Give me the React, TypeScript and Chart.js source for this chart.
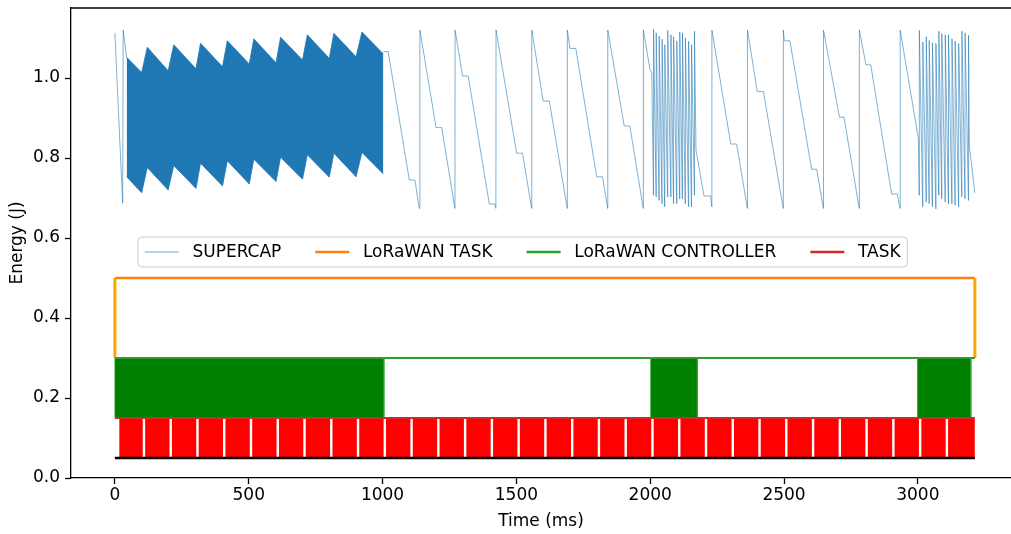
import React, { useEffect, useRef } from "react";
import { Chart, registerables } from "chart.js";

Chart.register(...registerables);

// ---------- axes ----------
const X_TICKS = [0, 500, 1000, 1500, 2000, 2500, 3000];
const X_TICK_LABELS = ["0", "500", "1000", "1500", "2000", "2500", "3000"];
const Y_TICKS = [0, 0.2, 0.4, 0.6, 0.8, 1.0];
const Y_TICK_LABELS = ["0.0", "0.2", "0.4", "0.6", "0.8", "1.0"];
const X_MIN = -164;
const X_MAX = 3348;
const Y_MIN = 0;
const Y_MAX = 1.175;
const END_T = 3213;

// ---------- SUPERCAP (energy, J) ----------
const capPreT = [0, 29, 31, 44];
const capPreE = [1.112, 0.687, 1.12, 1.05];

// dense oscillation 44..1003 ms, drawn as its envelope
const bandT = [44, 100, 121, 199, 220, 303, 320, 402, 420, 502, 519, 602, 619, 701, 719, 801, 818, 901, 923, 1003];
const bandTop = [1.052, 1.014, 1.077, 1.018, 1.083, 1.023, 1.087, 1.028, 1.093, 1.035, 1.098, 1.038, 1.102, 1.045, 1.108, 1.049, 1.112, 1.053, 1.115, 1.06];
const bandBottom = [0.753, 0.713, 0.776, 0.72, 0.781, 0.724, 0.787, 0.73, 0.793, 0.735, 0.797, 0.741, 0.802, 0.747, 0.808, 0.752, 0.812, 0.753, 0.814, 0.76];

const capMidT = [1003, 1021, 1100, 1121, 1137, 1139.5, 1200, 1221, 1270.5, 1271, 1299, 1320, 1399, 1420, 1423.5, 1424, 1501, 1523, 1557, 1557.5, 1600, 1623, 1690, 1690.5, 1700, 1722, 1800, 1822, 1841, 1841.5, 1903, 1924, 1974, 1974.5, 2000, 2006];
const capMidE = [1.066, 1.066, 0.745, 0.745, 0.674, 1.12, 0.876, 0.876, 0.674, 1.12, 1.005, 1.005, 0.685, 0.685, 0.674, 1.12, 0.812, 0.812, 0.674, 1.12, 0.9425, 0.9425, 0.674, 1.12, 1.074, 1.074, 0.753, 0.753, 0.674, 1.12, 0.88, 0.88, 0.674, 1.12, 1.018, 1.015];

const spikes2T = [2012, 2022, 2033, 2044, 2054, 2065, 2077, 2087, 2099, 2110, 2120, 2131, 2143, 2154, 2165];
const spikes2Top = [1.122, 1.113, 1.105, 1.097, 1.083, 1.119, 1.108, 1.103, 1.093, 1.115, 1.113, 1.1, 1.092, 1.083, 1.117];
const spikes2Bottom = [0.707, 0.703, 0.694, 0.686, 0.678, 0.703, 0.703, 0.686, 0.686, 0.698, 0.698, 0.686, 0.678, 0.678, 0.707];

const capMid2T = [2171, 2201, 2226, 2230, 2230.5, 2301, 2323, 2363, 2363.5, 2400, 2423, 2497, 2497.5, 2501, 2522, 2603, 2622, 2647, 2647.5, 2707, 2724, 2781, 2781.5, 2806, 2824, 2902, 2923, 2933.5, 2934, 3002];
const capMid2E = [0.82, 0.705, 0.705, 0.678, 1.12, 0.835, 0.835, 0.674, 1.12, 0.966, 0.966, 0.674, 1.12, 1.093, 1.093, 0.772, 0.772, 0.674, 1.12, 0.902, 0.902, 0.674, 1.12, 1.033, 1.033, 0.71, 0.71, 0.674, 1.12, 0.848];

const spikes3T = [3005, 3018, 3031, 3042, 3054, 3067, 3078, 3089, 3102, 3114, 3127, 3139, 3152, 3164, 3176, 3189];
const spikes3Top = [1.119, 1.09, 1.103, 1.094, 1.088, 1.086, 1.117, 1.111, 1.108, 1.108, 1.098, 1.092, 1.086, 1.117, 1.113, 1.107];
const spikes3Bottom = [0.707, 0.678, 0.69, 0.686, 0.678, 0.673, 0.707, 0.698, 0.69, 0.686, 0.686, 0.682, 0.678, 0.703, 0.698, 0.694];

const capEndT = [3192, 3213];
const capEndE = [0.832, 0.713];

// ---------- activity levels ----------
const LORA_TASK_LEVELS = [0.3, 0.5];
const CONTROLLER_LEVELS = [0.15, 0.3];
const TASK_LEVELS = [0.05, 0.15];

const controllerStarts = [0, 2002, 2999];
const controllerEnds = [1005, 2176, 3198];

const taskStarts = [16, 113, 213, 313, 413, 513, 613, 713, 813, 913, 1013, 1113, 1213, 1313, 1413, 1513, 1613, 1713, 1813, 1913, 2013, 2113, 2213, 2313, 2413, 2513, 2613, 2713, 2813, 2913, 3013, 3113];
const taskEnds = [104, 204, 304, 404, 504, 604, 704, 804, 904, 1004, 1104, 1204, 1304, 1404, 1504, 1604, 1704, 1804, 1904, 2004, 2104, 2204, 2304, 2404, 2504, 2604, 2704, 2804, 2904, 3004, 3104, 3213];

const LEGEND_LABELS = ["SUPERCAP", "LoRaWAN TASK", "LoRaWAN CONTROLLER", "TASK"];
const LEGEND_COLORS = ["rgba(31,119,180,0.7)", "#ff7f0e", "#2ca02c", "#d62728"];
const LEGEND_WIDTHS = [0.9, 2.5, 2.5, 2.5];

const CAP_COLOR = "rgba(31,119,180,0.72)";

type P = { x: number; y: number | null };
const pts = (ts: number[], es: number[]): P[] => ts.map((t, i) => ({ x: t, y: es[i] }));
// sharp rise at each spike time, then decay toward the next spike's bottom
const spikes = (ts: number[], tops: number[], bots: number[]): P[] =>
  ts.flatMap((t, i) => [
    { x: t, y: bots[i] },
    { x: t + 0.5, y: tops[i] },
  ]);
const blocks = (starts: number[], ends: number[], lo: number, hi: number): P[] =>
  starts.flatMap((s, i) => [
    { x: s, y: lo },
    { x: s, y: hi },
    { x: ends[i], y: hi },
    { x: ends[i], y: lo },
  ]);

const FONT = "'DejaVu Sans', 'Liberation Sans', sans-serif";
const FS = 17;

const framePlugin = {
  id: "frameTop",
  afterDraw(chart: any) {
    const { ctx, chartArea } = chart;
    ctx.save();
    ctx.strokeStyle = "#000";
    ctx.lineWidth = 1.3;
    ctx.beginPath();
    ctx.moveTo(chartArea.left, chartArea.top);
    ctx.lineTo(chartArea.right, chartArea.top);
    ctx.stroke();
    ctx.restore();
  },
};

const legendPlugin = {
  id: "mplLegend",
  afterDraw(chart: any) {
    const ctx = chart.ctx;
    const f = FS;
    const left = 138;
    const top = 237;
    const h = 30;
    ctx.save();
    ctx.font = `${f}px ${FONT}`;
    let x = left + 0.4 * f;
    const layout: { hx: number; tx: number }[] = [];
    LEGEND_LABELS.forEach((lab, i) => {
      const hx = x;
      const tx = hx + 2 * f + 0.8 * f;
      layout.push({ hx, tx });
      x = tx + ctx.measureText(lab).width + (i < LEGEND_LABELS.length - 1 ? 2 * f : 0);
    });
    const right = x + 0.4 * f;
    const r = 4;
    ctx.beginPath();
    ctx.moveTo(left + r, top);
    ctx.lineTo(right - r, top);
    ctx.arcTo(right, top, right, top + r, r);
    ctx.lineTo(right, top + h - r);
    ctx.arcTo(right, top + h, right - r, top + h, r);
    ctx.lineTo(left + r, top + h);
    ctx.arcTo(left, top + h, left, top + h - r, r);
    ctx.lineTo(left, top + r);
    ctx.arcTo(left, top, left + r, top, r);
    ctx.closePath();
    ctx.fillStyle = "rgba(255,255,255,0.8)";
    ctx.fill();
    ctx.strokeStyle = "#cccccc";
    ctx.lineWidth = 1;
    ctx.stroke();
    const cy = top + h / 2;
    LEGEND_LABELS.forEach((lab, i) => {
      const { hx, tx } = layout[i];
      ctx.strokeStyle = LEGEND_COLORS[i];
      ctx.lineWidth = LEGEND_WIDTHS[i];
      ctx.beginPath();
      ctx.moveTo(hx, cy);
      ctx.lineTo(hx + 2 * f, cy);
      ctx.stroke();
      ctx.fillStyle = "#000";
      ctx.textBaseline = "middle";
      ctx.textAlign = "left";
      ctx.fillText(lab, tx, cy + 1);
    });
    ctx.restore();
  },
};

export default function App() {
  const ref = useRef<HTMLCanvasElement | null>(null);

  useEffect(() => {
    if (!ref.current) return;
    Chart.defaults.font.family = FONT;
    Chart.defaults.font.size = FS;
    Chart.defaults.color = "#000";

    const supercap: P[] = [
      ...pts(capPreT, capPreE),
      { x: 500, y: null },
      ...pts(capMidT, capMidE),
      ...spikes(spikes2T, spikes2Top, spikes2Bottom),
      ...pts(capMid2T, capMid2E),
      ...spikes(spikes3T, spikes3Top, spikes3Bottom),
      ...pts(capEndT, capEndE),
    ];

    const loraTask: P[] = [
      { x: 0, y: LORA_TASK_LEVELS[0] },
      { x: 0, y: LORA_TASK_LEVELS[1] },
      { x: END_T, y: LORA_TASK_LEVELS[1] },
      { x: END_T, y: LORA_TASK_LEVELS[0] },
    ];

    const base = { pointRadius: 0, tension: 0, fill: false, spanGaps: false };

    const zeroPad = (s: any) => {
      s.paddingTop = 0;
      s.paddingBottom = 0;
      s.paddingLeft = 0;
      s.paddingRight = 0;
    };

    const chart = new Chart(ref.current, {
      type: "line",
      data: {
        datasets: [
          {
            ...base,
            label: "black",
            data: [{ x: 0, y: TASK_LEVELS[0] }, { x: END_T, y: TASK_LEVELS[0] }],
            borderColor: "#000",
            borderWidth: 2.5,
            order: 0,
          },
          {
            ...base,
            label: "TASK",
            data: [{ x: 0, y: TASK_LEVELS[1] }, { x: END_T, y: TASK_LEVELS[1] }],
            borderColor: "#d62728",
            borderWidth: 2.2,
            order: 1,
          },
          {
            ...base,
            label: "LoRaWAN CONTROLLER",
            data: [{ x: 0, y: CONTROLLER_LEVELS[1] }, { x: END_T, y: CONTROLLER_LEVELS[1] }],
            borderColor: "#2ca02c",
            borderWidth: 2.2,
            order: 2,
          },
          {
            ...base,
            label: "LoRaWAN TASK",
            data: loraTask,
            borderColor: "#ff7f0e",
            borderWidth: 2.5,
            segment: {
              borderColor: (c: any) => (c.p0.parsed.x === c.p1.parsed.x ? "#ffa500" : "#ff7f0e"),
              borderWidth: (c: any) => (c.p0.parsed.x === c.p1.parsed.x ? 3 : 2.5),
            },
            order: 3,
          },
          {
            ...base,
            label: "SUPERCAP",
            data: supercap,
            borderColor: CAP_COLOR,
            borderWidth: 0.8,
            order: 4,
          },
          {
            ...base,
            label: "band top",
            data: pts(bandT, bandTop),
            borderColor: "#1f77b4",
            borderWidth: 0.8,
            backgroundColor: "#1f77b4",
            fill: "+1",
            order: 5,
          },
          {
            ...base,
            label: "band bottom",
            data: pts(bandT, bandBottom),
            borderColor: "#1f77b4",
            borderWidth: 0.8,
            order: 6,
          },
          {
            ...base,
            label: "task blocks",
            data: blocks(taskStarts, taskEnds, TASK_LEVELS[0], TASK_LEVELS[1]),
            borderColor: "rgba(0,0,0,0)",
            borderWidth: 1,
            backgroundColor: "#ff0000",
            fill: { value: TASK_LEVELS[0] },
            order: 7,
          },
          {
            ...base,
            label: "controller blocks",
            data: blocks(controllerStarts, controllerEnds, CONTROLLER_LEVELS[0], CONTROLLER_LEVELS[1]),
            borderColor: "#2ca02c",
            borderWidth: 0.8,
            backgroundColor: "#008000",
            fill: { value: CONTROLLER_LEVELS[0] },
            order: 8,
          },
        ] as any,
      },
      options: {
        responsive: false,
        animation: false,
        events: [],
        layout: { padding: { top: 8, right: 0, left: 0, bottom: 0 } },
        plugins: {
          legend: { display: false },
          tooltip: { enabled: false },
        },
        scales: {
          x: {
            type: "linear",
            min: X_MIN,
            max: X_MAX,
            afterBuildTicks: (s: any) => {
              s.ticks = X_TICKS.map((v) => ({ value: v }));
            },
            afterFit: (s: any) => {
              s.height = 56;
              zeroPad(s);
            },
            ticks: {
              callback: (_v: any, i: number) => X_TICK_LABELS[i],
              autoSkip: false,
              maxRotation: 0,
              padding: 1,
              color: "#000",
              font: { size: FS },
            },
            grid: {
              display: true,
              drawOnChartArea: false,
              drawTicks: true,
              tickLength: 6,
              tickColor: "#000",
              tickWidth: 1.3,
            },
            border: { display: true, color: "#000", width: 1.3 },
            title: {
              display: true,
              text: "Time (ms)",
              color: "#000",
              font: { size: FS },
              padding: { top: 0, bottom: 2 },
            },
          },
          y: {
            type: "linear",
            min: Y_MIN,
            max: Y_MAX,
            afterBuildTicks: (s: any) => {
              s.ticks = Y_TICKS.map((v) => ({ value: v }));
            },
            afterFit: (s: any) => {
              s.width = 71;
              zeroPad(s);
            },
            ticks: {
              callback: (_v: any, i: number) => Y_TICK_LABELS[i],
              autoSkip: false,
              padding: 5,
              color: "#000",
              font: { size: FS },
            },
            grid: {
              display: true,
              drawOnChartArea: false,
              drawTicks: true,
              tickLength: 6,
              tickColor: "#000",
              tickWidth: 1.3,
            },
            border: { display: true, color: "#000", width: 1.3 },
            title: {
              display: true,
              text: "Energy (J)",
              color: "#000",
              font: { size: FS },
              padding: { top: 7, bottom: 0 },
            },
          },
        },
      } as any,
      plugins: [framePlugin, legendPlugin],
    });

    return () => chart.destroy();
  }, []);

  return (
    <div style={{ position: "fixed", left: 0, top: 0, width: 1011, height: 534, background: "#fff" }}>
      <canvas ref={ref} width={1011} height={534} style={{ display: "block", width: 1011, height: 534 }} />
    </div>
  );
}
